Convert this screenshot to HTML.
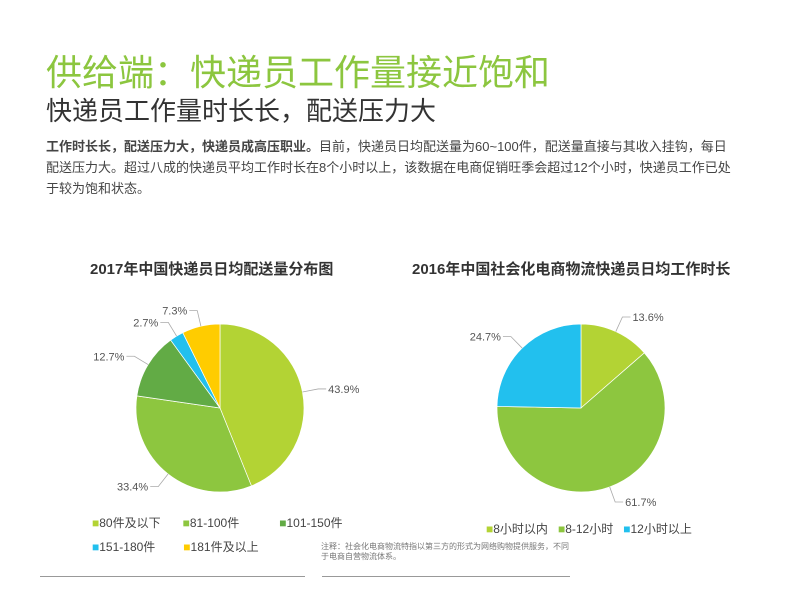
<!DOCTYPE html>
<html><head><meta charset="utf-8"><style>
body{margin:0;width:800px;height:600px;background:#fff;font-family:"Liberation Sans","Noto Sans CJK SC",sans-serif;position:relative;overflow:hidden}
.a{position:absolute;white-space:nowrap}
</style></head><body>
<div class="a" style="left:46px;top:44px;font-size:36px;color:#8cc63f">供给端：快递员工作量接近饱和</div>
<div class="a" style="left:46px;top:91px;font-size:26px;color:#333">快递员工作量时长长，配送压力大</div>
<div class="a" style="left:46px;top:136px;width:690px;white-space:normal;font-size:13px;line-height:21px;color:#444"><b>工作时长长，配送压力大，快递员成高压职业。</b>目前，快递员日均配送量为60~100件，配送量直接与其收入挂钩，每日配送压力大。超过八成的快递员平均工作时长在8个小时以上，该数据在电商促销旺季会超过12个小时，快递员工作已处于较为饱和状态。</div>
<div class="a" style="left:90px;top:258px;font-size:15px;font-weight:bold;color:#333">2017年中国快递员日均配送量分布图</div>
<div class="a" style="left:412px;top:258px;font-size:15px;font-weight:bold;color:#333">2016年中国社会化电商物流快递员日均工作时长</div>
<svg class="a" style="left:0;top:0" width="800" height="600" id="svg"></svg>
<div class="a" style="left:92px;top:511px;font-size:12px;color:#444;line-height:24px">
<span><span style="color:#b3d334">■</span>80件及以下</span><span style="display:inline-block;width:22px"></span><span><span style="color:#8dc63f">■</span>81-100件</span><span style="display:inline-block;width:40px"></span><span><span style="color:#62ab45">■</span>101-150件</span><br>
<span><span style="color:#22c0ee">■</span>151-180件</span><span style="display:inline-block;width:28px"></span><span><span style="color:#ffcc00">■</span>181件及以上</span></div>
<div class="a" style="left:486px;top:520px;font-size:12px;color:#444">
<span><span style="color:#b3d334">■</span>8小时以内</span>&nbsp;&nbsp;&nbsp;<span><span style="color:#8dc63f">■</span>8-12小时</span>&nbsp;&nbsp;&nbsp;<span><span style="color:#22c0ee">■</span>12小时以上</span></div>
<div class="a" style="left:321px;top:542px;width:252px;white-space:normal;font-size:8px;line-height:10px;color:#777">注释：社会化电商物流特指以第三方的形式为网络购物提供服务，不同于电商自营物流体系。</div>
<div class="a" style="left:40px;top:576px;width:265px;height:1px;background:#999"></div>
<div class="a" style="left:322px;top:576px;width:248px;height:1px;background:#999"></div>
<script>
const leftValues=[43.9,33.4,12.7,2.7,7.3];
const leftLabels=["43.9%","33.4%","12.7%","2.7%","7.3%"];
const leftColors=["#b3d334","#8dc63f","#62ab45","#22c0ee","#ffcc00"];
const rightValues=[13.6,61.7,24.7];
const rightLabels=["13.6%","61.7%","24.7%"];
const rightColors=["#b3d334","#8dc63f","#22c0ee"];
const svg=document.getElementById('svg');
const NS="http://www.w3.org/2000/svg";
function pie(cx,cy,r,vals,labs,cols,name){
 const tot=vals.reduce((a,b)=>a+b,0);let a0=-Math.PI/2;
 vals.forEach((v,i)=>{
  const a1=a0+v/tot*2*Math.PI;
  const p=document.createElementNS(NS,'path');
  const large=(a1-a0)>Math.PI?1:0;
  p.setAttribute('d',`M${cx},${cy}L${cx+r*Math.cos(a0)},${cy+r*Math.sin(a0)}A${r},${r} 0 ${large} 1 ${cx+r*Math.cos(a1)},${cy+r*Math.sin(a1)}Z`);
  p.setAttribute('fill',cols[i]);p.setAttribute('stroke','#fff');p.setAttribute('stroke-width','0.7');
  
  
  svg.appendChild(p);
  const am=(a0+a1)/2,c=Math.cos(am),s=Math.sin(am);
  const l=document.createElementNS(NS,'polyline');
  const ex=cx+(r+16)*c,ey=cy+(r+16)*s,hx=ex+(c>=0?8:-8);
  l.setAttribute('points',`${cx+r*c},${cy+r*s} ${ex},${ey} ${hx},${ey}`);
  l.setAttribute('fill','none');l.setAttribute('stroke','#aaa');l.setAttribute('stroke-width','0.8');
  
  
  svg.appendChild(l);
  const t=document.createElementNS(NS,'text');
  t.setAttribute('x',hx+(c>=0?2:-2));t.setAttribute('y',ey+4);
  t.setAttribute('text-anchor',c>=0?'start':'end');t.setAttribute('font-size','11');t.setAttribute('fill','#555');
  t.textContent=labs[i];
  
  
  svg.appendChild(t);
  a0=a1;
 });
}
pie(220,408,84,leftValues,leftLabels,leftColors,'left-pie');
pie(581,408,84,rightValues,rightLabels,rightColors,'right-pie');
</script>
</body></html>
